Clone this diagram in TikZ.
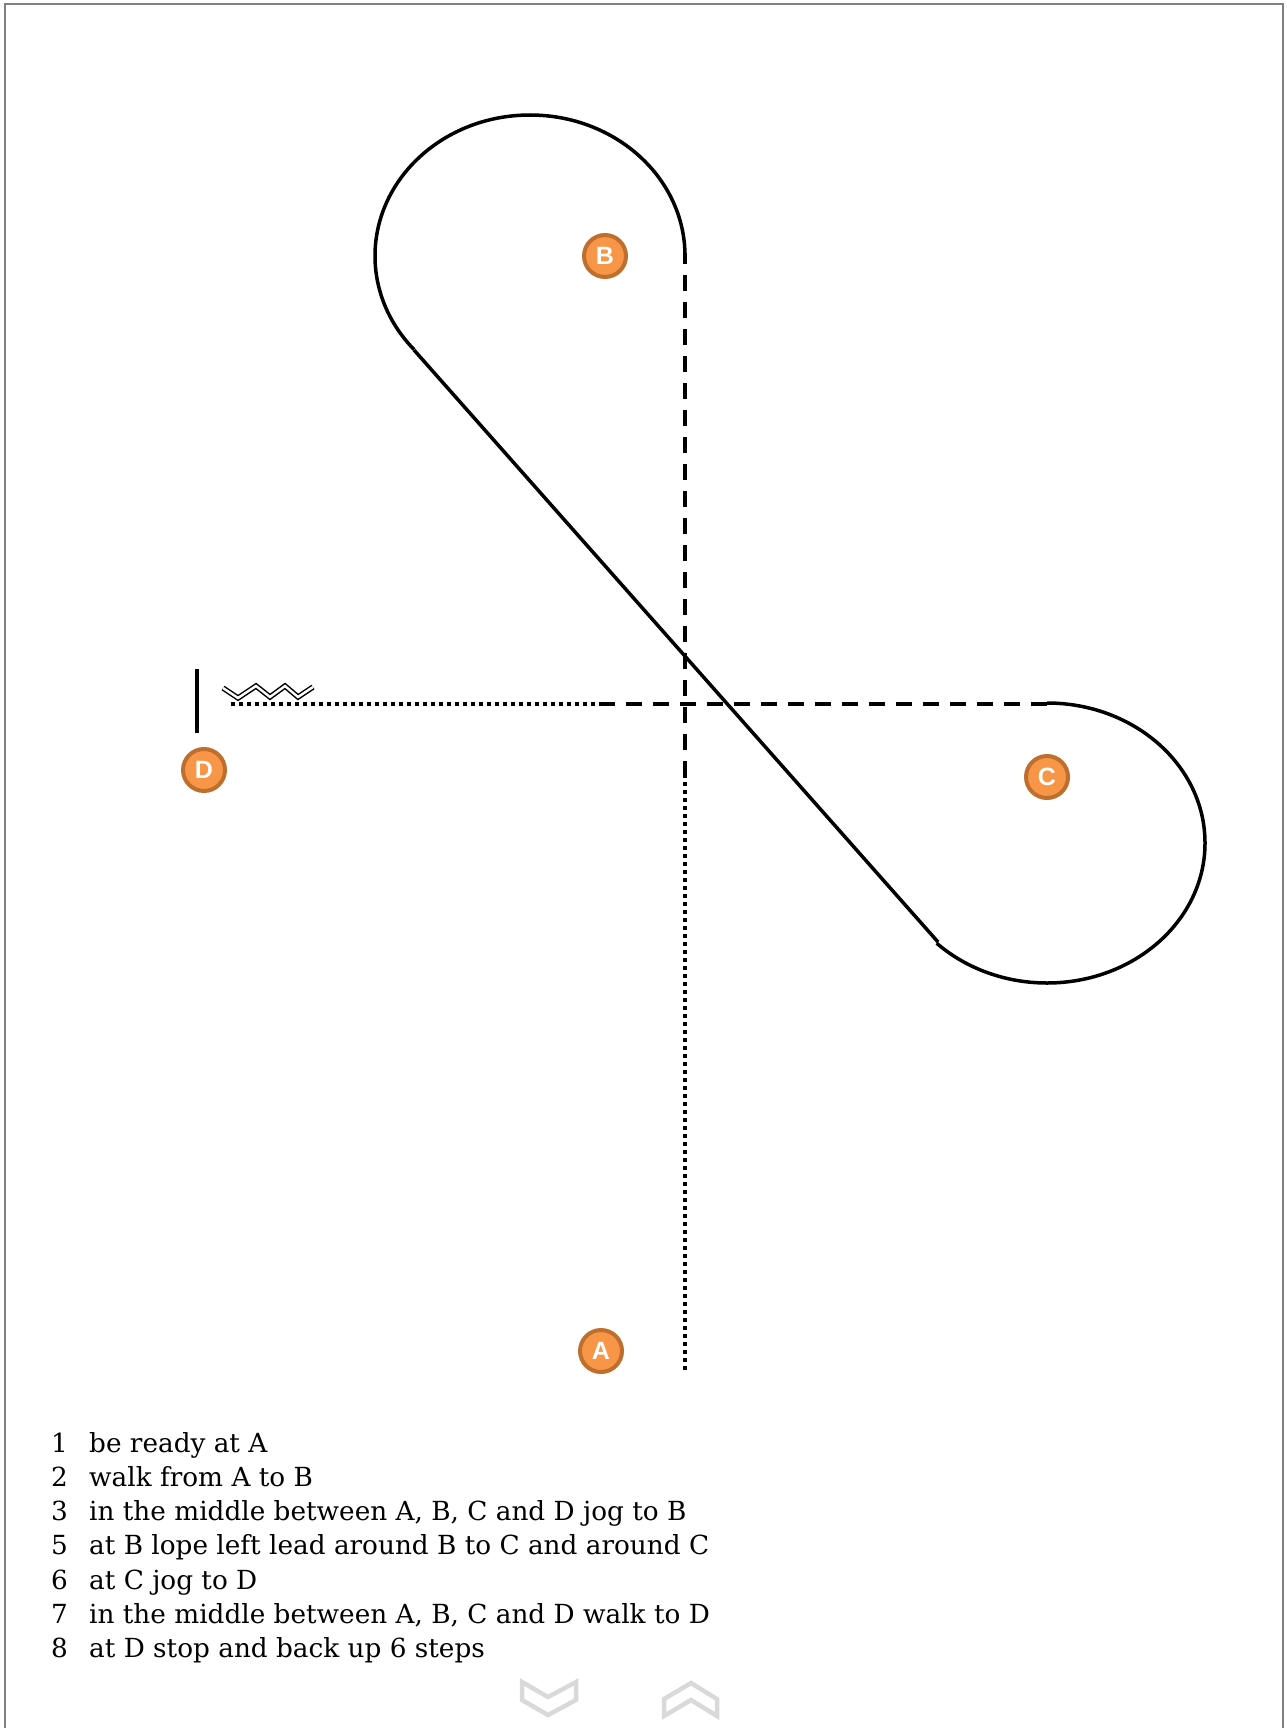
\documentclass[tikz,border=0pt]{standalone}
\usepackage{fontspec}
\setmainfont{DejaVu Serif}
\newfontfamily\markfont{Liberation Sans}
\definecolor{ringc}{HTML}{BE6F2E}
\definecolor{fillc}{HTML}{F79646}
\definecolor{framec}{HTML}{808080}
\definecolor{chevc}{HTML}{D9D9D9}
\tikzset{
  track/.style={line width=3.5pt},
  dashtrack/.style={line width=3.5pt, dash pattern=on 16pt off 11pt},
  dottrack/.style={line width=3.5pt, dash pattern=on 4pt off 4pt},
  marker/.style={circle, draw=ringc, fill=fillc, line width=4pt, minimum size=42pt, inner sep=0pt,
    text=white, font=\markfont\bfseries\fontsize{25}{25}\selectfont},
  steptext/.style={anchor=base west, inner sep=0pt, font=\fontsize{26.3}{30}\selectfont},
  chev/.style={draw=chevc, line width=4.5pt, line join=miter}
}
\begin{document}
\begin{tikzpicture}[x=1pt,y=-1pt]
\useasboundingbox (0,0) rectangle (1286,1728);
% frame
\draw[framec, line width=2pt] (5,1740) -- (5,4) -- (1283,4) -- (1283,1740);
% coordinates
\coordinate (vtop) at (685,253);
\coordinate (vmid) at (685,777);
\coordinate (vbot) at (685,1370);
\coordinate (hleft) at (228,704);
\coordinate (hmid) at (603,704);
\coordinate (hright) at (1047,704);
% vertical A->B
\draw[dottrack] (vbot) -- (vmid);
\draw[dashtrack] (vmid) -- (vtop);
% horizontal C->D
\draw[dashtrack] (hright) -- (hmid);
\draw[dottrack] (hmid) -- (hleft);
% loops
\draw[track] (685,256) arc[start angle=0, end angle=221.6, x radius=155, y radius=-141]
  coordinate (bend);
\coordinate (bstart) at (414,350);
\coordinate (cstart) at (938,942);
\draw[track] (bstart) -- (cstart);
\draw[track] (1047,703) arc[start angle=90, end angle=-134.3, x radius=158, y radius=-140];
% stop bar at D
\draw[line width=4.5pt] (197,669) -- (197,733);
% back up zigzag
\draw[double, double distance=2.4pt, line width=1.5pt, line join=miter]
  (223,688) -- (238,698) -- (256,686) -- (270,697) -- (285,686) -- (298,697) -- (313,687);
% markers
\node[marker] (A) at (601,1351) {A};
\node[marker] (B) at (605,256) {B};
\node[marker] (C) at (1047,777) {C};
\node[marker] (D) at (204,770) {D};
% steps
\foreach \n/\t/\yy in {1/be ready at A/1452, 2/walk from A to B/1486,
  3/{in the middle between A, B, C and D jog to B}/1520,
  5/at B lope left lead around B to C and around C/1554,
  6/at C jog to D/1589,
  7/{in the middle between A, B, C and D walk to D}/1623,
  8/at D stop and back up 6 steps/1657}{
  \node[steptext] (n\n) at (51,\yy) {\n};
  \node[steptext] (t\n) at (89,\yy) {\t};
}
% navigation chevrons
\draw[chev] (522,1682) -- (548,1697) -- (576,1682) -- (576,1700) -- (548,1715) -- (522,1700) -- cycle;
\draw[chev] (664,1699) -- (691,1683) -- (717,1699) -- (717,1716) -- (691,1700) -- (664,1716) -- cycle;
\end{tikzpicture}
\end{document}
